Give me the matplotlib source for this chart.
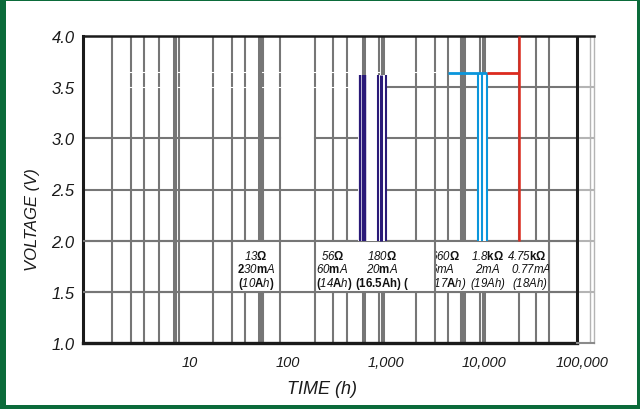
import matplotlib
matplotlib.use('Agg')
import matplotlib.pyplot as plt
from matplotlib.patches import Rectangle
from matplotlib.transforms import Bbox, TransformedBbox

plt.rcParams['font.family'] = ['Liberation Sans', 'DejaVu Sans']
plt.rcParams['mathtext.fontset'] = 'custom'
plt.rcParams['mathtext.rm'] = 'Liberation Sans:italic'
plt.rcParams['mathtext.it'] = 'Liberation Sans:italic'
plt.rcParams['mathtext.bf'] = 'Liberation Sans:bold'

# ---------------- data ----------------
y_ticks = [1.0, 1.5, 2.0, 2.5, 3.0, 3.5, 4.0]
y_tick_labels = ['1.0', '1.5', '2.0', '2.5', '3.0', '3.5', '4.0']
x_ticks = [10, 100, 1000, 10000, 100000]
x_tick_labels = ['10', '100', '1,000', '10,000', '100,000']

x_min, x_max = 0.81, 132500
axis_end_h = 88900
ext_lines_h = [120800]

grid_thin_h = [1.6, 2.5, 3.4, 4.8, 7.7, 17.2, 26.8, 36.4, 55.6, 82.9, 188.6,
               288, 400, 849, 2023, 3162, 4295, 5822, 9100, 22750, 33960, 46000]
grid_thick_h = [7.03, 51.8, 597, 931, 6250, 10000]

hgrid_full_v = [1.5, 2.0, 2.5]
hgrid_30_segments = [(0.81, 82.9), (188.6, 88900)]
hgrid_35_start = 1050
gap_rows_v = [3.5, 3.647]
gap_span_h = (2.0, 3500)

navy_h = [543, 597, 824, 895, 1000]
navy_w = [1.6, 3.2, 1.5, 2.2, 1.5]
navy_span = (520, 1010)
navy_top = 3.62
blue_h = [8740, 9610, 10650]
blue_w = [1.5, 1.5, 1.5]
blue_span = (8600, 10800)
blue_start = 4295
step_v = 3.64
red_h = 22750
red_top = 4.0
curve_bottom = 2.0

box_left_h, box_right_h = 26.8, 46000
box_dividers_h = [26.8, 82.9, 188.6, 3162, 46000]
box_v = (1.5, 2.0)
row_v = [1.853, 1.725, 1.588]

labels = [
    # x (h), row, text, ha, clip range
    (47.1, 0, r'$\mathit{13}\mathbf{Ω}$', 'center', None),
    (47.1, 1, r'$\mathbf{2}\mathit{30}\mathbf{m}\mathit{A}$', 'center', None),
    (47.1, 2, r'$\mathbf{(}\mathit{10}\mathbf{A}\mathit{h}\mathbf{)}$', 'center', None),
    (288, 0, r'$\mathit{56}\mathbf{Ω}$', 'center', None),
    (280, 1, r'$\mathit{60}\mathbf{m}\mathit{A}$', 'center', None),
    (300, 2, r'$\mathbf{(}\mathit{14}\mathbf{A}\mathit{h}\mathbf{)}$', 'center', None),
    (910, 0, r'$\mathit{180}\mathbf{Ω}$', 'center', None),
    (910, 1, r'$\mathit{20}\mathbf{m}\mathit{A}$', 'center', None),
    (483, 2, r'$\mathbf{(16.5Ah)\ (}$', 'left', None),
    (2800, 0, r'$\mathit{660}\mathbf{Ω}$', 'left', (3230, 46000)),
    (2800, 1, r'$\mathit{6mA}$', 'left', (3230, 46000)),
    (2800, 2, r'$\mathit{(17}\mathbf{A}\mathit{h)}$', 'left', (3230, 46000)),
    (10990, 0, r'$\mathit{1.8}\mathbf{kΩ}$', 'center', None),
    (10990, 1, r'$\mathit{2mA}$', 'center', None),
    (10990, 2, r'$\mathit{(19Ah)}$', 'center', None),
    (27480, 0, r'$\mathit{4.75}\mathbf{kΩ}$', 'center', None),
    (18800, 1, r'$\mathit{0.77mA}$', 'left', (3230, 46500)),
    (29440, 2, r'$\mathit{(18Ah)}$', 'center', None),
]

GRAY = '#767676'
LGRAY = '#b4b4b4'
NAVY = '#2a1a78'
BLUE = '#0a96dc'
RED = '#dc2a1e'
GREEN = '#0b6b3a'
INK = '#1a1a1a'

# ---------------- figure ----------------
W, H = 640, 410
fig = plt.figure(figsize=(W / 100, H / 100), dpi=100)
ax = fig.add_axes([83 / W, (H - 344) / H, (594 - 83) / W, (344 - 37) / H])
ax.set_xscale('log')
ax.set_xlim(x_min, x_max)
ax.set_ylim(1.0, 4.0)

# vertical grid
for xv in grid_thin_h:
    ax.plot([xv, xv], [1.0, 4.0], color=GRAY, lw=1.5, zorder=1, solid_capstyle='butt')
for yv in gap_rows_v:
    ax.plot(list(gap_span_h), [yv, yv], color='white', lw=0.8, zorder=1.5)
for xv in grid_thick_h:
    ax.plot([xv, xv], [1.0, 4.0], color=GRAY, lw=2.9, zorder=1.6, solid_capstyle='butt')
for xv in ext_lines_h:
    ax.plot([xv, xv], [1.0, 4.0], color=LGRAY, lw=1.0, zorder=1)

# horizontal grid
for yv in hgrid_full_v:
    ax.plot([x_min, axis_end_h], [yv, yv], color=GRAY, lw=1.5, zorder=1.7)
    ax.plot([axis_end_h, x_max], [yv, yv], color=LGRAY, lw=1.5, zorder=1.7)
for a, b in hgrid_30_segments:
    ax.plot([a, b], [3.0, 3.0], color=GRAY, lw=1.5, zorder=1.7)
ax.plot([axis_end_h, x_max], [3.0, 3.0], color=LGRAY, lw=1.5, zorder=1.7)
ax.plot([hgrid_35_start, axis_end_h], [3.5, 3.5], color=GRAY, lw=1.5, zorder=1.7)
ax.plot([axis_end_h, x_max], [3.5, 3.5], color=LGRAY, lw=1.5, zorder=1.7)

# label band (white boxes)
ax.add_patch(Rectangle((box_left_h, box_v[0]), box_right_h - box_left_h,
                       box_v[1] - box_v[0], facecolor='white', edgecolor='none', zorder=2))
for xv in box_dividers_h:
    ax.plot([xv, xv], list(box_v), color=GRAY, lw=1.5, zorder=3, solid_capstyle='butt')
for yv in box_v:
    ax.plot([x_min, axis_end_h], [yv, yv], color=GRAY, lw=1.5, zorder=3)

# coloured marks (white backing under the groups)
ax.add_patch(Rectangle((navy_span[0], curve_bottom), navy_span[1] - navy_span[0],
                       navy_top - curve_bottom, facecolor='white', edgecolor='none', zorder=3))
ax.add_patch(Rectangle((blue_span[0], curve_bottom), blue_span[1] - blue_span[0],
                       step_v - curve_bottom, facecolor='white', edgecolor='none', zorder=3))
for xv, w in zip(navy_h, navy_w):
    ax.plot([xv, xv], [curve_bottom, navy_top], color=NAVY, lw=w, zorder=4, solid_capstyle='butt')
ax.plot([blue_start, blue_h[-1]], [step_v, step_v], color=BLUE, lw=2.0, zorder=4, solid_capstyle='butt')
for xv, w in zip(blue_h, blue_w):
    ax.plot([xv, xv], [curve_bottom, step_v], color=BLUE, lw=w, zorder=4, solid_capstyle='butt')
ax.plot([blue_h[-1], red_h], [step_v, step_v], color=RED, lw=2.0, zorder=4, solid_capstyle='butt')
ax.plot([red_h, red_h], [curve_bottom, red_top], color=RED, lw=1.8, zorder=4, solid_capstyle='butt')

# texts in boxes
for xv, r, s, ha, clip in labels:
    t = ax.text(xv, row_v[r], s, ha=ha, va='center', fontsize=8.3, color='#111111', zorder=5)
    if clip is not None:
        t.set_clip_on(True)
        t.set_clip_box(TransformedBbox(Bbox([[clip[0], box_v[0]], [clip[1], box_v[1]]]),
                                       ax.transData))

# axis end line and spines
ax.plot([axis_end_h, axis_end_h], [1.0, 4.0], color=INK, lw=2.2, zorder=6, solid_capstyle='butt')
ax.plot([x_min, axis_end_h], [1.0, 1.0], color=INK, lw=2.4, zorder=6, clip_on=False)
ax.plot([axis_end_h, x_max], [1.0, 1.0], color='#8a8a8a', lw=1.5, zorder=6, clip_on=False)
ax.spines['bottom'].set_visible(False)
ax.spines['right'].set_color(LGRAY)
ax.spines['right'].set_linewidth(1.0)
ax.spines['left'].set_color(INK)
ax.spines['left'].set_linewidth(2.2)
ax.spines['top'].set_color(INK)
ax.spines['top'].set_linewidth(1.8)

ax.set_yticks(y_ticks)
ax.set_yticklabels(y_tick_labels, fontsize=12, style='italic', color=INK)
ax.set_xticks(x_ticks)
ax.set_xticklabels(x_tick_labels, fontsize=10.5, style='italic', color=INK)
ax.minorticks_off()
ax.tick_params(axis='both', length=0)
ax.tick_params(axis='y', pad=6)
ax.tick_params(axis='x', pad=9)

fig.text(33 / W, 1 - 220 / H, 'VOLTAGE (V)', rotation=90, ha='center', va='center',
         fontsize=12, style='italic', color=INK,
         family=['Liberation Sans Narrow', 'Liberation Sans'])
fig.text(322 / W, 1 - 390 / H, 'TIME (h)', ha='center', va='center',
         fontsize=13, style='italic', color=INK,
         family=['Liberation Sans Narrow', 'Liberation Sans'])

# green frame
for (x0, y0, w, h) in [(0, 0, 6, H), (0, 0, W, 4), (0, H - 2, W, 2), (W - 3, 0, 3, H)]:
    fig.add_artist(Rectangle((x0 / W, y0 / H), w / W, h / H, transform=fig.transFigure,
                             facecolor=GREEN, edgecolor='none', zorder=10))

fig.savefig('out.png', dpi=100)
